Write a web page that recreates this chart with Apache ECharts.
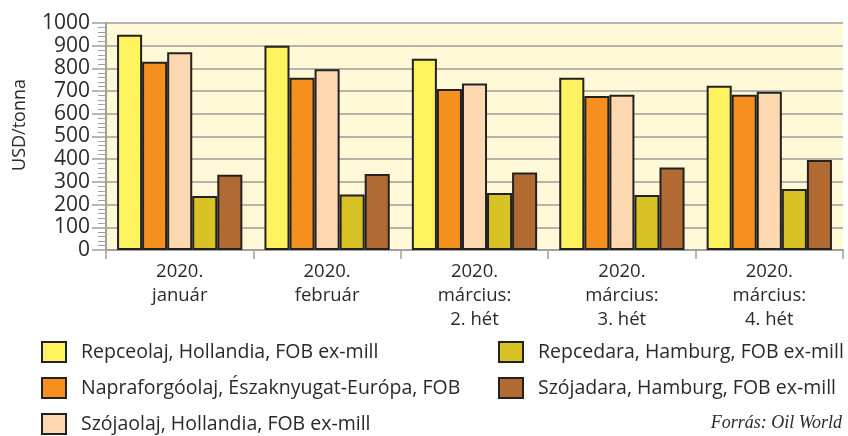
<!DOCTYPE html>
<html>
<head>
<meta charset="utf-8">
<script src="https://cdn.jsdelivr.net/npm/echarts@6/dist/echarts.min.js"></script>
<style>
  html, body { margin: 0; padding: 0; background: #fff; }
  #chart { width: 848px; height: 436px; }
</style>
</head>
<body>
<div id="chart"></div>
<script>
// kategóriák (x tengely)
var categories = ['2020.\njanuár', '2020.\nfebruár', '2020.\nmárcius:\n2. hét', '2020.\nmárcius:\n3. hét', '2020.\nmárcius:\n4. hét'];

// USD/tonna értékek
var repceolaj = [948, 900, 843, 759, 724];
var napraforgoolaj = [829, 759, 709, 678, 684];
var szojaolaj = [871, 796, 733, 684, 697];
var repcedara = [238, 244, 251, 242, 269];
var szojadara = [332, 335, 341, 363, 396];

var seriesNames = [
  'Repceolaj, Hollandia, FOB ex-mill',
  'Napraforgóolaj, Északnyugat-Európa, FOB',
  'Szójaolaj, Hollandia, FOB ex-mill',
  'Repcedara, Hamburg, FOB ex-mill',
  'Szójadara, Hamburg, FOB ex-mill'
];
var seriesColors = ['#fff25f', '#f5901e', '#fdd8b0', '#d9c224', '#b26a33'];
var seriesData = [repceolaj, napraforgoolaj, szojaolaj, repcedara, szojadara];

var yTicks = { min: 0, max: 1000, interval: 100 };

var font = '"Open Sans", "Noto Sans", sans-serif';
var textColor = '#2a2a2a';

var myChart = echarts.init(document.getElementById('chart'));

var series = seriesData.map(function (d, i) {
  return {
    name: seriesNames[i],
    type: 'bar',
    data: d,
    barGap: '0%',
    barCategoryGap: '15%',
    itemStyle: {
      color: seriesColors[i],
      borderColor: '#222222',
      borderWidth: 2
    }
  };
});

var legendBase = {
  orient: 'vertical',
  top: 336,
  height: 120,
  itemWidth: 24,
  itemHeight: 20,
  itemGap: 14,
  icon: 'rect',
  textStyle: {
    fontFamily: font,
    fontSize: 19.5,
    color: textColor,
    padding: [0, 0, 0, 10]
  }
};

myChart.setOption({
  animation: false,
  grid: {
    left: 106,
    right: 5,
    top: 23,
    bottom: 186,
    show: true,
    backgroundColor: '#fff9d7',
    borderWidth: 0
  },
  legend: [
    Object.assign({}, legendBase, { left: 36, data: seriesNames.slice(0, 3) }),
    Object.assign({}, legendBase, { left: 493, data: seriesNames.slice(3) })
  ],
  xAxis: {
    type: 'category',
    data: categories,
    axisLine: { lineStyle: { color: '#a0a0a0', width: 2 } },
    axisTick: { show: true, length: 9, lineStyle: { color: '#a0a0a0', width: 1.5 } },
    axisLabel: {
      margin: 10,
      fontFamily: font,
      fontSize: 18.5,
      lineHeight: 24,
      color: textColor
    }
  },
  yAxis: {
    type: 'value',
    min: yTicks.min,
    max: yTicks.max,
    interval: yTicks.interval,
    axisLine: { show: true, lineStyle: { color: '#a0a0a0', width: 2 } },
    axisTick: { show: true, length: 14, lineStyle: { color: '#a0a0a0', width: 1.5 } },
    minorTick: { show: true, splitNumber: 5, length: 8, lineStyle: { color: '#a0a0a0', width: 1 } },
    splitLine: { lineStyle: { color: '#9c9c9c', width: 1.5 } },
    axisLabel: {
      margin: 16,
      fontFamily: font,
      fontSize: 21,
      color: textColor,
      formatter: function (v) { return String(v); }
    }
  },
  graphic: [
    {
      type: 'text',
      x: 11,
      y: 125,
      rotation: Math.PI / 2,
      style: {
        text: 'USD/tonna',
        font: '18px ' + font,
        fill: textColor,
        align: 'center',
        verticalAlign: 'top'
      }
    },
    {
      type: 'text',
      x: 842,
      y: 423,
      style: {
        text: 'Forrás: Oil World',
        font: 'italic 18px "Liberation Serif", "DejaVu Serif", serif',
        fill: textColor,
        align: 'right',
        verticalAlign: 'middle'
      }
    }
  ],
  series: series
});
</script>
</body>
</html>
